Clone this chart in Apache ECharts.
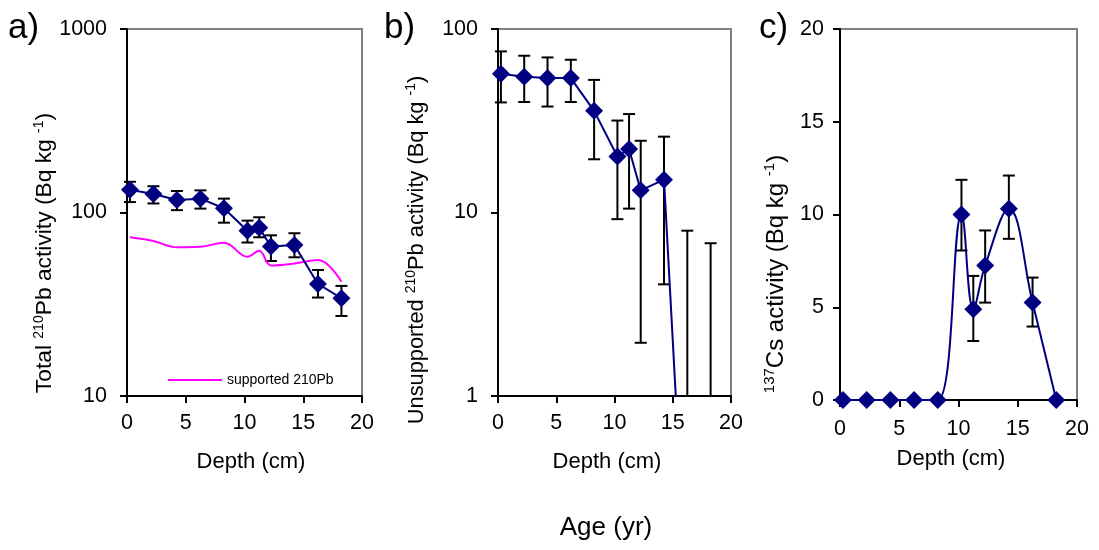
<!DOCTYPE html>
<html>
<head>
<meta charset="utf-8">
<script src="https://cdn.jsdelivr.net/npm/echarts@6/dist/echarts.min.js"></script>
<style>
  html, body { margin: 0; padding: 0; background: #fff; }
  #chart { width: 1099px; height: 550px; }
</style>
</head>
<body>
<div id="chart"></div>
<script>
// Sample depths (cm), shared by all three profiles
const depth = [0.25, 2.25, 4.25, 6.25, 8.25, 10.25, 11.25, 12.25, 14.25, 16.25, 18.25];

// a) Total 210Pb activity (Bq/kg) with error range, plus supported 210Pb
const totalPb     = [133, 126, 117, 119, 105.5, 79.6, 82.6, 65.2, 66.5, 40.8, 34.1];
const totalPbLow  = [114, 112, 103, 105, 88, 68.6, 73.3, 54.4, 57, 34.4, 27.3];
const totalPbHigh = [147, 139, 131, 132, 119, 90.3, 94.2, 75.1, 77.1, 48.6, 39.8];
const supportedPb = [73.3, 69.9, 64.6, 65, 68.5, 57.4, 61.9, 51.5, 52.8, 55.1, 42];

// b) Unsupported 210Pb activity (Bq/kg); deepest samples fall below the axis
const unsupportedPb     = [57, 55, 54, 54, 35.8, 20.2, 22.2, 13.2, 15.1, 0.07, null];
const unsupportedPbLow  = [39.8, 40, 37.8, 40, 19.5, 9.2, 10.5, 1.95, 4.06, null, null];
const unsupportedPbHigh = [75.5, 71.5, 70, 68, 52.8, 31.7, 34.4, 24.6, 25.9, 7.96, 6.8];

// c) 137Cs activity (Bq/kg)
const cs137     = [0, 0, 0, 0, 0, 10.0, 4.89, 7.25, 10.31, 5.25, 0];
const cs137Low  = [null, null, null, null, null, 8.06, 3.18, 5.25, 8.69, 3.96, null];
const cs137High = [null, null, null, null, null, 11.87, 6.69, 9.14, 12.1, 6.6, null];

const FONT = 'Liberation Sans, Arial, Helvetica, sans-serif';
const NAVY = '#000080';
const TICK_FONT = 21.5;

const pairs = (xs, ys) => xs.map((x, i) => [x, ys[i]]);
const triples = (xs, lo, hi) => xs.map((x, i) => [x, lo[i], hi[i]]);

// Vertical error bar with caps, clipped to the plot rectangle
function errorBar(params, api) {
  const x = api.value(0), lo = api.value(1), hi = api.value(2);
  if (!isFinite(hi)) return null;
  const cs = params.coordSys;
  const yMin = cs.y, yMax = cs.y + cs.height;
  const top = api.coord([x, hi]);
  const loFinite = isFinite(lo);
  const yLoRaw = loFinite ? api.coord([x, lo])[1] : yMax;
  const clampY = v => Math.min(Math.max(v, yMin), yMax);
  const px = top[0];
  const style = { stroke: '#000', lineWidth: 2 };
  const half = 6;
  const children = [{
    type: 'line',
    shape: { x1: px, y1: clampY(top[1]), x2: px, y2: clampY(yLoRaw) },
    style
  }];
  if (top[1] >= yMin && top[1] <= yMax) {
    children.push({ type: 'line', shape: { x1: px - half, y1: top[1], x2: px + half, y2: top[1] }, style });
  }
  if (loFinite && yLoRaw >= yMin && yLoRaw <= yMax) {
    children.push({ type: 'line', shape: { x1: px - half, y1: yLoRaw, x2: px + half, y2: yLoRaw }, style });
  }
  return { type: 'group', children };
}

const axisCommon = {
  axisLine: { show: true, onZero: false, lineStyle: { color: '#000', width: 2 } },
  axisTick: { show: true, inside: false, length: 7, lineStyle: { color: '#000', width: 2 } },
  splitLine: { show: false },
  minorTick: { show: false }
};

const plainNumber = v => String(v);

function xAxisFor(gridIndex, margin) {
  return Object.assign({}, axisCommon, {
    type: 'value', gridIndex, min: 0, max: 20, interval: 5,
    axisLabel: { fontSize: TICK_FONT, color: '#000', fontFamily: FONT, margin, formatter: plainNumber }
  });
}

const grids = [
  { left: 127, top: 29, width: 235, height: 367 },
  { left: 498, top: 29, width: 233, height: 367 },
  { left: 840, top: 29, width: 237, height: 371 }
].map(g => Object.assign(g, { show: true, borderColor: '#808080', borderWidth: 2, backgroundColor: 'transparent' }));

const yAxes = [
  Object.assign({}, axisCommon, {
    type: 'log', logBase: 10, gridIndex: 0, min: 10, max: 1000,
    axisLabel: { fontSize: TICK_FONT, color: '#000', fontFamily: FONT, margin: 20, formatter: plainNumber }
  }),
  Object.assign({}, axisCommon, {
    type: 'log', logBase: 10, gridIndex: 1, min: 1, max: 100,
    axisLabel: { fontSize: TICK_FONT, color: '#000', fontFamily: FONT, margin: 20, formatter: plainNumber }
  }),
  Object.assign({}, axisCommon, {
    type: 'value', gridIndex: 2, min: 0, max: 20, interval: 5,
    axisLabel: { fontSize: TICK_FONT, color: '#000', fontFamily: FONT, margin: 16, formatter: plainNumber }
  })
];

const markerSeries = (name, idx, data, extra) => Object.assign({
  name, type: 'line', xAxisIndex: idx, yAxisIndex: idx, data,
  symbol: 'diamond', symbolSize: 18, z: 5,
  itemStyle: { color: NAVY },
  lineStyle: { color: NAVY, width: 2 },
  clip: true
}, extra || {});

const errSeries = (idx, data) => ({
  type: 'custom', xAxisIndex: idx, yAxisIndex: idx, data,
  renderItem: errorBar, z: 3, silent: true,
  encode: { x: 0, y: [1, 2] }
});

// Rotated rich-text axis titles with superscripts
function vTitle(x, y, text, size) {
  const sup = Math.round(size * 0.62);
  return {
    type: 'text', x, y, rotation: Math.PI / 2,
    style: {
      text, align: 'center', verticalAlign: 'middle',
      rich: {
        n: { fontSize: size, fontFamily: FONT, fill: '#000', lineHeight: size + 3 },
        s: { fontSize: sup, fontFamily: FONT, fill: '#000', verticalAlign: 'top', lineHeight: size + 3 }
      }
    }
  };
}
function hText(x, y, text, size, align) {
  return {
    type: 'text', x, y,
    style: { text, fontSize: size, fontFamily: FONT, fill: '#000', align: align || 'center', verticalAlign: 'middle' }
  };
}

const option = {
  animation: false,
  backgroundColor: '#fff',
  grid: grids,
  xAxis: [xAxisFor(0, 16), xAxisFor(1, 16), xAxisFor(2, 18)],
  yAxis: yAxes,
  legend: {
    data: [{ name: 'supported 210Pb', icon: 'rect' }],
    left: 163, top: 368,
    itemWidth: 54, itemHeight: 2, itemGap: 6,
    textStyle: { fontSize: 14, color: '#000', fontFamily: FONT }
  },
  series: [
    errSeries(0, triples(depth, totalPbLow, totalPbHigh)),
    {
      name: 'supported 210Pb', type: 'line', xAxisIndex: 0, yAxisIndex: 0,
      data: pairs(depth, supportedPb), smooth: 0.4, symbol: 'none', z: 4,
      itemStyle: { color: '#FF00FF' },
      lineStyle: { color: '#FF00FF', width: 2 }
    },
    markerSeries('Total 210Pb', 0, pairs(depth, totalPb)),

    errSeries(1, triples(depth, unsupportedPbLow, unsupportedPbHigh)),
    markerSeries('Unsupported 210Pb', 1, pairs(depth, unsupportedPb)),

    errSeries(2, triples(depth, cs137Low, cs137High)),
    markerSeries('137Cs', 2, pairs(depth, cs137), { smooth: 0.4 })
  ],
  graphic: [
    hText(8, 28, 'a)', 35, 'left'),
    hText(384, 28, 'b)', 35, 'left'),
    hText(759, 28, 'c)', 35, 'left'),
    vTitle(45, 253, '{n|Total }{s|210}{n|Pb activity (Bq kg }{s|-1}{n|)}', 22.8),
    vTitle(417, 250, '{n|Unsupported }{s|210}{n|Pb activity (Bq kg }{s|-1}{n|)}', 21.8),
    vTitle(776, 274, '{s|137}{n|Cs activity (Bq kg }{s|-1}{n|)}', 24),
    hText(251, 462, 'Depth (cm)', 22),
    hText(607, 462, 'Depth (cm)', 22),
    hText(951, 459, 'Depth (cm)', 22),
    hText(606, 528, 'Age (yr)', 26)
  ]
};

const chart = echarts.init(document.getElementById('chart'), null, { renderer: 'canvas' });
chart.setOption(option);
</script>
</body>
</html>
